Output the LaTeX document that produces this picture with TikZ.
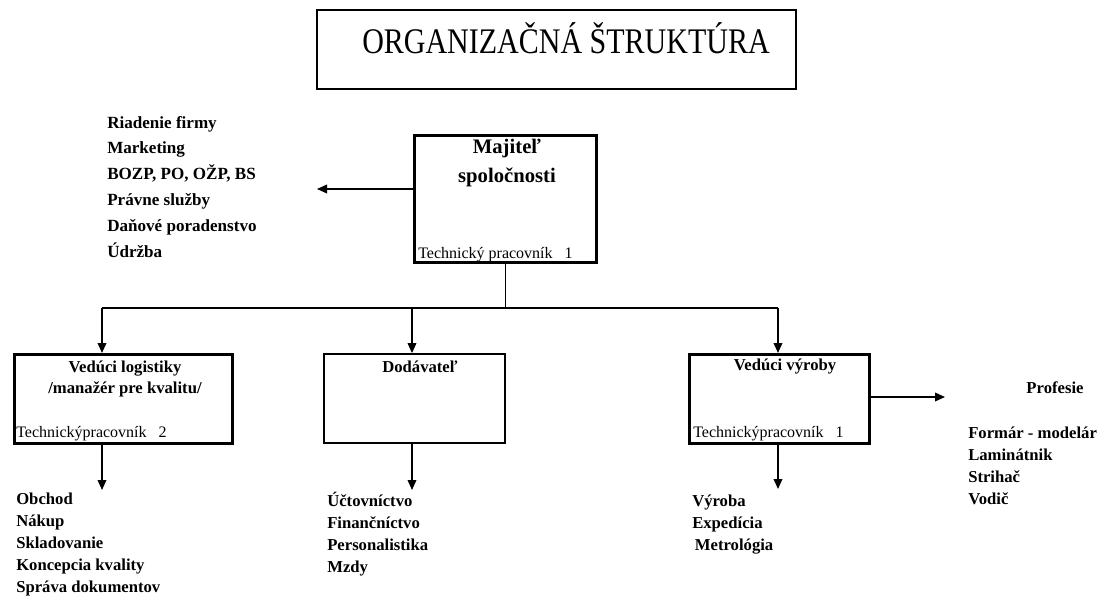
\documentclass[tikz,border=0pt]{standalone}
\usepackage{fontspec}
\usepackage{graphicx}
\setmainfont{Liberation Serif}
\usetikzlibrary{arrows.meta}
\begin{document}
\begin{tikzpicture}[x=0.75pt,y=-0.75pt,
  line/.style={line width=1.1pt},
  arr/.style={line width=1.1pt,-{Triangle[length=7.5pt,width=6.5pt]}},
  thickbox/.style={draw,line width=2.5pt,inner sep=0pt},
  thinbox/.style={draw,line width=1.1pt,inner sep=0pt},
  titlebox/.style={draw,line width=1.5pt,inner sep=0pt},
  boldtxt/.style={inner sep=0pt,font=\fontsize{12.5}{15.75}\selectfont\bfseries},
  techtxt/.style={inner sep=0pt,font=\fontsize{12}{14}\selectfont},
  list/.style={inner sep=0pt,align=left,font=\fontsize{12.5}{16.5}\selectfont\bfseries}
]
\useasboundingbox (0,0) rectangle (1115,596);

% title
\node[titlebox,minimum width=359pt,minimum height=59.3pt] (title) at (556.5,49.5) {};
\node[inner sep=0pt,anchor=base,font=\fontsize{22.5}{26}\selectfont] (titletxt) at (566,53) {\scalebox{1}[1.2]{ORGANIZAČNÁ ŠTRUKTÚRA}};

% owner
\node[thickbox,minimum width=136.3pt,minimum height=95pt] (owner) at (505.5,199) {};
\node[inner sep=0pt,anchor=base,align=center,font=\fontsize{15.5}{21.75}\selectfont\bfseries] (ownertxt) at (507,182) {Majiteľ\\spoločnosti};
\node[techtxt,anchor=base west] (ownertech) at (418,258) {Technický pracovník\hspace{9pt}1};

% staff list (left top); base anchor = last line baseline
\node[list,anchor=base west,font=\fontsize{12.8}{19.35}\selectfont\bfseries] (staff) at (107,257) {Riadenie firmy\\Marketing\\BOZP, PO, OŽP, BS\\Právne služby\\Daňové poradenstvo\\Údržba};
\coordinate (stafftip) at (317,189);
\draw[arr] (owner.west |- stafftip) -- (stafftip);

% second level boxes
\node[thickbox,minimum width=163.5pt,minimum height=66.5pt] (log) at (123.25,399) {};
\node[thinbox,minimum width=136pt,minimum height=67pt] (dod) at (414.5,398.5) {};
\node[thickbox,minimum width=134.8pt,minimum height=66.5pt] (vyr) at (779.5,399) {};

\node[boldtxt,anchor=base,align=center] (logtxt) at (125,393) {Vedúci logistiky\\/manažér pre kvalitu/};
\node[techtxt,anchor=base west] (logtech) at (16,437) {Technickýpracovník\hspace{9pt}2};
\node[boldtxt,anchor=base] (dodtxt) at (420,372) {Dodávateľ};
\node[boldtxt,anchor=base] (vyrtxt) at (785,370) {Vedúci výroby};
\node[techtxt,anchor=base west] (vyrtech) at (693,437) {Technickýpracovník\hspace{9pt}1};

% bus
\coordinate (bus) at (505.5,308);
\coordinate (busL) at (102,308);
\coordinate (busM) at (412,308);
\coordinate (busR) at (778,308);
\draw[line] (owner.south) -- (bus);
\draw[line] (busL) -- (busR);
\draw[arr] (busL) -- (busL |- log.north);
\draw[arr] (busM) -- (busM |- dod.north);
\draw[arr] (busR) -- (busR |- vyr.north);

% down arrows
\coordinate (logtip) at (102,490);
\coordinate (dodtip) at (412,490);
\coordinate (vyrtip) at (778,489);
\draw[arr] (log.south -| logtip) -- (logtip);
\draw[arr] (dod.south -| dodtip) -- (dodtip);
\draw[arr] (vyr.south -| vyrtip) -- (vyrtip);

% lists (base anchor = last line baseline)
\node[list,anchor=base west] (loglist) at (16,592) {Obchod\\Nákup\\Skladovanie\\Koncepcia kvality\\Správa dokumentov};
\node[list,anchor=base west] (dodlist) at (327,572) {Účtovníctvo\\Finančníctvo\\Personalistika\\Mzdy};
\node[list,anchor=base west] (vyrlist) at (692,550) {Výroba\\Expedícia\\\hspace*{2pt}Metrológia};

% profesie
\coordinate (proftip) at (945,397);
\draw[arr] (vyr.east |- proftip) -- (proftip);
\node[boldtxt,anchor=base] (prof) at (1055,393) {Profesie};
\node[list,anchor=base west] (proflist) at (968,504) {Formár - modelár\\Laminátnik\\Strihač\\Vodič};
\end{tikzpicture}
\end{document}
